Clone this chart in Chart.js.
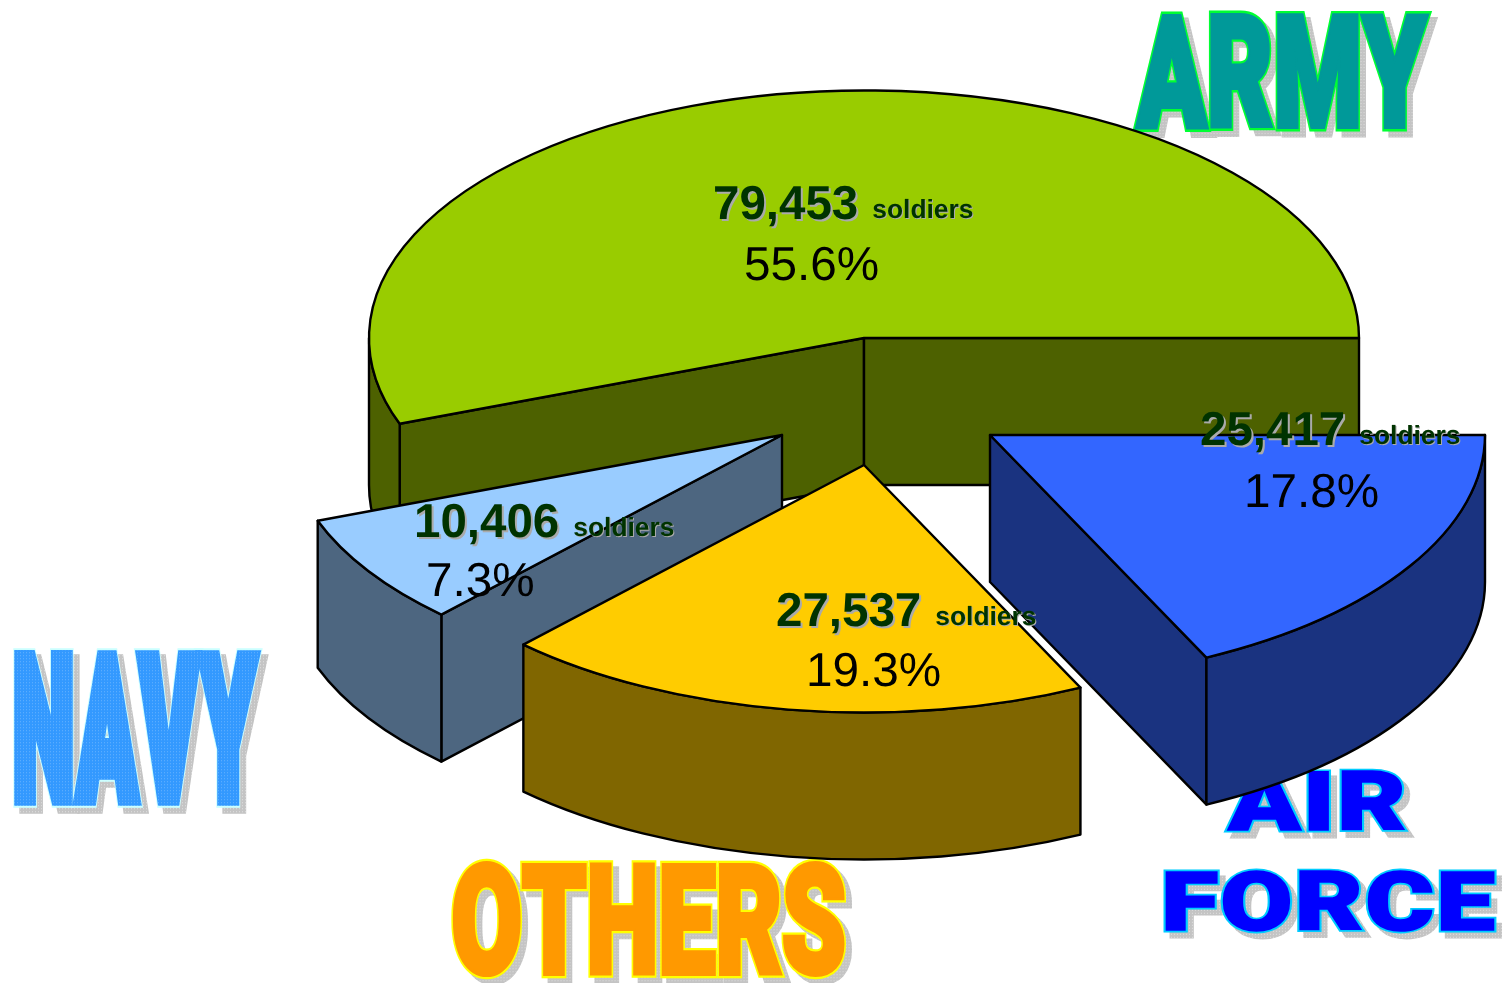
<!DOCTYPE html>
<html>
<head>
<meta charset="utf-8">
<title>Soldiers by service</title>
<script src="https://cdn.jsdelivr.net/npm/chart.js@4"></script>
<style>
  html, body { margin: 0; background: #fff; }
  canvas { display: block; }
</style>
</head>
<body>
<canvas id="pie" width="1502" height="983"></canvas>
<script>
// data, clockwise from 3 o'clock
const categories = ["Air Force", "Others", "Navy", "Army"];
const soldiers = [25417, 27537, 10406, 79453];
const soldierLabels = ["25,417", "27,537", "10,406", "79,453"];
const percentLabels = ["17.8%", "19.3%", "7.3%", "55.6%"];

// look of the slices
const topColors = ["#3366FF", "#FFCC00", "#99CCFF", "#99CC00"];
const sideColors = ["#1A3380", "#806600", "#4D6680", "#4D6100"];
const drawOrder = [3, 0, 2, 1];
const sliceShift = [[126, 97], [0, 127], [-82, 97], [0, 0]];
const tilt = 0.5;
const depth = 147;

// text start x, number baseline, percent start x, percent baseline
const labelSpots = [
  [1200, 445, 1244, 507],
  [776, 626, 806, 686],
  [414, 537, 426, 596],
  [713, 219, 744, 280]
];

const wordArt = [
  { text: "ARMY", x: 1133, y: 10, w: 297, h: 123, fat: 4, line: 3, gap: 1, fill: "#009999", edge: "#00FF33" },
  { text: "NAVY", x: 13, y: 647, w: 247, h: 163, fat: 8, line: 2, gap: 4, fill: "#3399FF", edge: "#CCFFFF", dots: "#66B3FF" },
  { text: "OTHERS", x: 451, y: 858, w: 396, h: 122, fat: 4, line: 3, gap: 0, fill: "#FF9900", edge: "#FFFF00" },
  { text: "AIR", x: 1224, y: 768, w: 183, h: 65, fat: 2, line: 4, gap: 2, fill: "#0000FF", edge: "#00CCFF" },
  { text: "FORCE", x: 1163, y: 868, w: 334, h: 65, fat: 2, line: 4, gap: 2, fill: "#0000FF", edge: "#00CCFF" }
];

function dotPattern(ctx, base, dot, sx, sy) {
  const c = document.createElement("canvas");
  c.width = c.height = 3;
  const g = c.getContext("2d");
  g.fillStyle = base;
  g.fillRect(0, 0, 3, 3);
  g.fillStyle = dot;
  g.fillRect(1, 1, 1, 1);
  const p = ctx.createPattern(c, "repeat");
  p.setTransform(new DOMMatrix().scale(1 / sx, 1 / sy));
  return p;
}

function drawWord(ctx, word) {
  ctx.save();
  ctx.font = "900 100px Roboto";
  ctx.fontKerning = "none";
  ctx.letterSpacing = word.gap + "px";
  ctx.textBaseline = "alphabetic";
  ctx.lineJoin = "miter";
  ctx.miterLimit = 3;
  const m = ctx.measureText(word.text);
  const pad = word.fat + word.line;
  const inkW = m.actualBoundingBoxLeft + m.actualBoundingBoxRight;
  const sx = word.w / (inkW + pad);
  const sy = word.h / (m.actualBoundingBoxAscent + m.actualBoundingBoxDescent + pad);
  const px = word.x + (m.actualBoundingBoxLeft + pad / 2) * sx;
  const py = word.y + (m.actualBoundingBoxAscent + pad / 2) * sy;

  // grainy drop shadow
  ctx.save();
  ctx.translate(px + 6, py + 6);
  ctx.scale(sx, sy);
  const grain = dotPattern(ctx, "#C4C4C4", "#E0E0E0", sx, sy);
  ctx.lineWidth = pad;
  ctx.strokeStyle = grain;
  ctx.fillStyle = grain;
  ctx.strokeText(word.text, 0, 0);
  ctx.fillText(word.text, 0, 0);
  ctx.restore();

  ctx.translate(px, py);
  ctx.scale(sx, sy);
  ctx.lineWidth = pad;
  ctx.strokeStyle = word.edge;
  ctx.strokeText(word.text, 0, 0);
  const face = word.dots ? dotPattern(ctx, word.fill, word.dots, sx, sy) : word.fill;
  ctx.lineWidth = word.fat;
  ctx.strokeStyle = face;
  ctx.fillStyle = face;
  ctx.strokeText(word.text, 0, 0);
  ctx.fillText(word.text, 0, 0);
  ctx.restore();
}

function drawSlice(ctx, arc, i) {
  const cx = arc.x + sliceShift[i][0];
  const cy = arc.y + sliceShift[i][1];
  const r = arc.outerRadius;
  const ry = r * tilt;
  const a0 = arc.startAngle;
  const a1 = arc.endAngle;

  ctx.save();
  ctx.strokeStyle = "#000";
  ctx.lineWidth = 2.4;
  ctx.lineJoin = "round";
  ctx.fillStyle = sideColors[i];

  // cut faces that look toward the viewer
  const face = a => {
    const ex = cx + r * Math.cos(a);
    const ey = cy + ry * Math.sin(a);
    ctx.beginPath();
    ctx.moveTo(cx, cy);
    ctx.lineTo(ex, ey);
    ctx.lineTo(ex, ey + depth);
    ctx.lineTo(cx, cy + depth);
    ctx.closePath();
    ctx.fill();
    ctx.stroke();
  };
  if (Math.cos(a0) < 0) face(a0);
  if (Math.cos(a1) > 0) face(a1);

  // outer wall, only the front half of the ellipse shows
  const from = Math.max(a0, 0);
  const to = Math.min(a1, Math.PI);
  if (to > from) {
    ctx.beginPath();
    ctx.ellipse(cx, cy, r, ry, 0, from, to);
    ctx.ellipse(cx, cy + depth, r, ry, 0, to, from, true);
    ctx.closePath();
    ctx.fill();
    ctx.stroke();
  }

  // top face comes from the library arc, squashed
  ctx.save();
  ctx.translate(cx - arc.x, cy);
  ctx.scale(1, tilt);
  ctx.translate(0, -arc.y);
  arc.draw(ctx);
  ctx.restore();

  ctx.beginPath();
  ctx.moveTo(cx, cy);
  ctx.ellipse(cx, cy, r, ry, 0, a0, a1);
  ctx.closePath();
  ctx.stroke();
  ctx.restore();
}

function drawLabel(ctx, i) {
  const spot = labelSpots[i];
  ctx.save();
  ctx.textBaseline = "alphabetic";
  ctx.textRendering = "geometricPrecision";
  const numFont = "bold 47.5px 'Liberation Sans'";
  const unitFont = "bold 26.4px 'Liberation Sans'";
  ctx.font = numFont;
  const numW = ctx.measureText(soldierLabels[i]).width;
  const unitX = spot[0] + numW + 14;
  const unitY = spot[1] - 1;
  ctx.fillStyle = "#AAAAAA";
  ctx.fillText(soldierLabels[i], spot[0] + 2, spot[1] + 2);
  ctx.font = unitFont;
  ctx.fillText("soldiers", unitX + 1, unitY + 1);
  ctx.fillStyle = "#003300";
  ctx.fillText("soldiers", unitX, unitY);
  ctx.font = numFont;
  ctx.fillText(soldierLabels[i], spot[0], spot[1]);
  ctx.fillStyle = "#000";
  ctx.font = "47.7px 'Liberation Sans'";
  ctx.fillText(percentLabels[i], spot[2], spot[3]);
  ctx.restore();
}

const pie3d = {
  id: "pie3d",
  beforeDatasetsDraw(chart) {
    wordArt.forEach(w => drawWord(chart.ctx, w));
  },
  beforeDatasetDraw(chart, args) {
    drawOrder.forEach(i => drawSlice(chart.ctx, args.meta.data[i], i));
    return false;
  },
  afterDatasetsDraw(chart) {
    drawOrder.forEach(i => drawLabel(chart.ctx, i));
  }
};

new Chart(document.getElementById("pie"), {
  type: "pie",
  data: {
    labels: categories,
    datasets: [{
      data: soldiers,
      backgroundColor: topColors,
      borderWidth: 0,
      hoverOffset: 0
    }]
  },
  options: {
    responsive: false,
    animation: false,
    rotation: 90,
    radius: 495,
    layout: { padding: { left: 226, bottom: 307 } },
    plugins: {
      legend: { display: false },
      tooltip: { enabled: false }
    }
  },
  plugins: [pie3d]
});
</script>
</body>
</html>
